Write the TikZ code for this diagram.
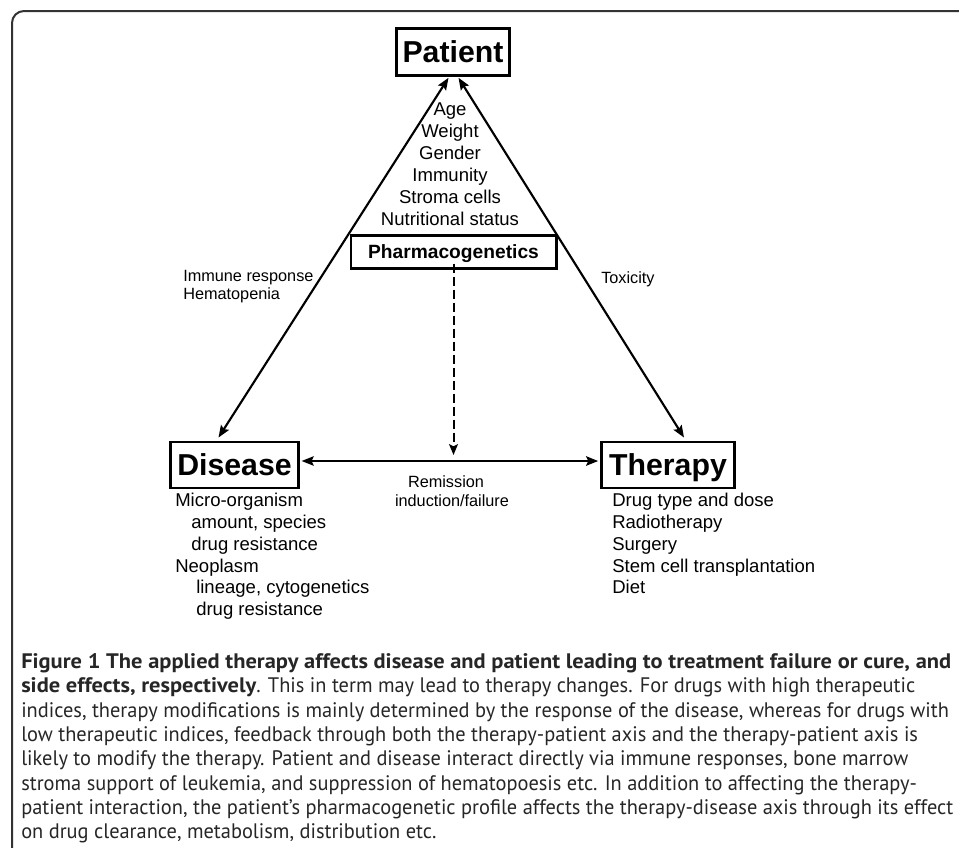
\documentclass[tikz,border=0pt]{standalone}
\usepackage{fontspec}
\setmainfont{Liberation Sans}
\newfontfamily\capfont{PT Sans}
\usetikzlibrary{arrows.meta,calc}
\newsavebox\capboxA
\newsavebox\capboxB
\newlength\capwA
\newlength\capwB
\AtBeginDocument{%
  \sbox\capboxA{\capfont\fontsize{15.75}{18}\selectfont patient interaction, the patient’s pharmacogenetic profile affects the therapy-disease axis through its effect}%
  \sbox\capboxB{\capfont\fontsize{15.75}{18}\selectfont\bfseries Figure 1 The applied therapy affects disease and patient leading to treatment failure or cure, and}%
  \global\capwA=\wd\capboxA
  \global\capwB=\wd\capboxB
  \pgfmathsetmacro\capxtmp{699pt/\capwA}\xdef\capx{\capxtmp}%
  \pgfmathsetmacro\capxtmp{697.5pt/\capwB}\xdef\capxb{\capxtmp}%
}
\begin{document}
\begin{tikzpicture}[x=0.75pt,y=-0.75pt,
  bigbox/.style={draw, line width=2.2pt, inner sep=0pt, text height=16.3pt, text depth=0pt,
    font=\fontsize{22.7}{26}\selectfont\bfseries},
  pgbox/.style={draw, line width=2pt, inner sep=0pt, text height=10.3pt, text depth=0pt,
    font=\fontsize{14.4}{17}\selectfont\bfseries},
  listtxt/.style={inner sep=0pt, font=\fontsize{13.9}{16}\selectfont},
  smalltxt/.style={inner sep=0pt, font=\fontsize{12.2}{14}\selectfont},
  link/.style={line width=1.6pt,
    {Stealth[length=9pt,width=7pt,inset=1.5pt]}-{Stealth[length=9pt,width=7pt,inset=1.5pt]}},
  dashlink/.style={line width=1.5pt, dash pattern=on 6.75pt off 3pt,
    -{Stealth[length=8pt,width=6.5pt,inset=1.5pt]}},
  capline/.style={anchor=base west, inner sep=0pt, text=black!85,
    font=\capfont\fontsize{15.75}{18}\selectfont},
  frame/.style={line width=1.5pt, draw=black!80, rounded corners=9pt}]
\useasboundingbox (0,0) rectangle (959,847);

% outer frame
\draw[frame] (12,848) -- (12,11) -- (960,11);

% main boxes
\node[bigbox, minimum width=84.5pt, minimum height=35pt] (patient) at (453,52) {Patient};
\node[bigbox, minimum width=95.5pt, minimum height=34.5pt] (disease) at (234.5,465) {Disease};
\node[bigbox, minimum width=99.5pt, minimum height=34.5pt] (therapy) at (668,465) {Therapy};
\node[pgbox, minimum width=154pt, minimum height=24.5pt] (pharm) at (453.5,252) {Pharmacogenetics};

% patient attributes
\foreach \t [count=\i from 0] in {Age,Weight,Gender,Immunity,Stroma cells,Nutritional status}
  \node[listtxt, anchor=base] (pl\i) at (450,{115+22*\i}) {\t};

% disease attributes
\foreach \x/\y/\t [count=\i] in {175/506/Micro-organism, 191/528/{amount, species},
    191/550/drug resistance, 175/572/Neoplasm, 196/593/{lineage, cytogenetics},
    196/615/drug resistance}
  \node[listtxt, anchor=base west] (dl\i) at (\x,\y) {\t};

% therapy attributes
\foreach \y/\t [count=\i] in {506/Drug type and dose, 528/Radiotherapy, 550/Surgery,
    572/Stem cell transplantation, 593/Diet}
  \node[listtxt, anchor=base west] (tl\i) at (612,\y) {\t};

% connector labels
\node[smalltxt, anchor=base west] (imm1) at (183,281) {Immune response};
\node[smalltxt, anchor=base west] (imm2) at (183,299) {Hematopenia};
\node[smalltxt, anchor=base west] (tox) at (601,283) {Toxicity};
\node[smalltxt, anchor=base] (rem1) at (446,487) {Remission};
\node[smalltxt, anchor=base] (rem2) at (452,506) {induction/failure};

% connectors
\draw[link] ($(patient.south)+(-4.5,1)$) -- ($(disease.north)+(-16,-3)$);
\draw[link] ($(patient.south)+(5.5,1)$) -- ($(therapy.north)+(16,-3)$);
\draw[link] ($(disease.east)+(2,-4)$) -- ($(therapy.west)+(-2,-4)$);
\coordinate (dashend) at (453.5,455);
\draw[dashlink] ($(pharm.south)+(0,-6)$) -- (dashend);

% caption
\node[capline] (c1) at (21,668) {\scalebox{\capxb}[1]{\bfseries Figure 1 The applied therapy affects disease and patient leading to treatment failure or cure, and}};
\node[capline] (c2) at (21,692) {\scalebox{\capxb}[1]{\bfseries side effects, respectively}\scalebox{\capx}[1]{. This in term may lead to therapy changes. For drugs with high therapeutic}};
\node[capline] (c3) at (21,717) {\scalebox{\capx}[1]{indices, therapy modifications is mainly determined by the response of the disease, whereas for drugs with}};
\node[capline] (c4) at (21,741) {\scalebox{\capx}[1]{low therapeutic indices, feedback through both the therapy-patient axis and the therapy-patient axis is}};
\node[capline] (c5) at (21,765) {\scalebox{\capx}[1]{likely to modify the therapy. Patient and disease interact directly via immune responses, bone marrow}};
\node[capline] (c6) at (21,790) {\scalebox{\capx}[1]{stroma support of leukemia, and suppression of hematopoesis etc. In addition to affecting the therapy-}};
\node[capline] (c7) at (21,814) {\scalebox{\capx}[1]{patient interaction, the patient’s pharmacogenetic profile affects the therapy-disease axis through its effect}};
\node[capline] (c8) at (21,838) {\scalebox{\capx}[1]{on drug clearance, metabolism, distribution etc.}};
\end{tikzpicture}
\end{document}
